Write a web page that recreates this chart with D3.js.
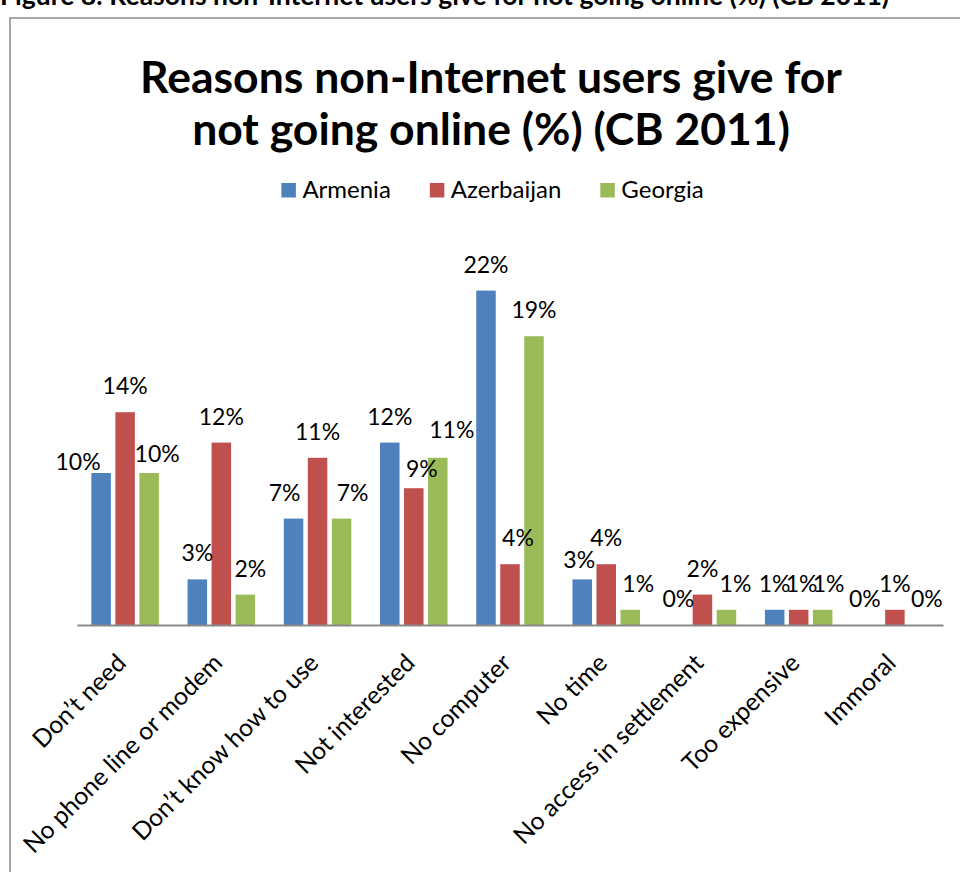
<!DOCTYPE html>
<html>
<head>
<meta charset="utf-8">
<script src="https://cdn.jsdelivr.net/npm/d3@7"></script>
<style>
  body { margin: 0; background: #fff; }
  text { font-family: Lato, "Open Sans", sans-serif; fill: #000; }
</style>
</head>
<body>
<svg id="chart" width="960" height="872"></svg>
<script>
// data
const categories = [
  "Don’t need",
  "No phone line or modem",
  "Don’t know how to use",
  "Not interested",
  "No computer",
  "No time",
  "No access in settlement",
  "Too expensive",
  "Immoral"
];
const seriesNames = ["Armenia", "Azerbaijan", "Georgia"];
const armenia = [10, 3, 7, 12, 22, 3, 0, 1, 0];
const azerbaijan = [14, 12, 11, 9, 4, 4, 2, 1, 1];
const georgia = [10, 2, 7, 11, 19, 1, 1, 1, 0];
const colors = ["#4F81BD", "#C0504D", "#9BBB59"];

// labels that were pushed aside to avoid overlaps (category-series: [dx, dy])
const labelNudge = {
  "0-0": [-23, 15], "0-2": [8, 7],
  "1-2": [5, 0],
  "2-0": [-9, 0], "2-2": [11, 0],
  "3-1": [8, 7], "3-2": [14, -2],
  "4-1": [8, 0],
  "5-0": [-3, 7], "5-2": [8, 0],
  "6-2": [9, 0],
  "7-1": [3, 0], "7-2": [6, 0],
  "8-0": [-6, 0], "8-2": [8, 0]
};

var svg = d3.select("#chart"),
  width = +svg.attr("width"),
  height = +svg.attr("height");

const values = [armenia, azerbaijan, georgia];
const rows = [];
categories.forEach((c, i) => {
  seriesNames.forEach((s, j) => {
    rows.push({ cat: c, ci: i, series: s, si: j, value: values[j][i] });
  });
});

// caption of the page, cut by the top edge
svg.append("text")
  .attr("x", 0)
  .attr("y", 5)
  .style("font-weight", "bold")
  .style("font-size", "26.5px")
  .text("Figure 8: Reasons non-Internet users give for not going online (%) (CB 2011)");

// outer frame (the chart box is cut by the page edge)
svg.append("path")
  .attr("d", `M10,${height + 2} V18 H${width + 2}`)
  .attr("fill", "none")
  .attr("stroke", "#8a8a8a")
  .attr("stroke-width", 1.5);

// scales
const x = d3.scaleBand().domain(categories).range([77, 943]);
const xs = d3.scaleBand().domain(seriesNames)
  .range([14.35, x.bandwidth() - 14.35])
  .paddingInner(0.1875);
const y = d3.scaleLinear().domain([0, 25]).range([625, 245]);

// title
const title = svg.append("text")
  .attr("x", 491)
  .attr("text-anchor", "middle")
  .style("font-weight", "bold")
  .style("font-size", "44.5px");
title.append("tspan").attr("x", 491).attr("y", 93).text("Reasons non-Internet users give for");
title.append("tspan").attr("x", 491).attr("y", 145).text("not going online (%) (CB 2011)");

// legend
const legend = svg.append("g").attr("class", "legend");
const items = legend.selectAll("g")
  .data(seriesNames)
  .enter()
  .append("g");
items.append("rect")
  .attr("width", 14.5)
  .attr("height", 14.5)
  .attr("y", 183)
  .attr("fill", (d, i) => colors[i]);
items.append("text")
  .attr("x", 21)
  .attr("y", 197.5)
  .style("font-size", "24px")
  .text((d) => d);
let lx = 0;
const pos = [];
const gap = 39;
items.each(function (d, i) {
  const w = d3.select(this).select("text").node().getComputedTextLength();
  pos.push(lx);
  lx += 21 + w + gap;
});
const total = lx - gap;
const start = 492.5 - total / 2;
items.attr("transform", (d, i) => `translate(${start + pos[i]},0)`);

// bars
svg.append("g")
  .attr("class", "bars")
  .selectAll("rect")
  .data(rows)
  .enter()
  .append("rect")
  .attr("x", (d) => x(d.cat) + xs(d.series))
  .attr("y", (d) => y(d.value))
  .attr("width", xs.bandwidth())
  .attr("height", (d) => y(0) - y(d.value))
  .attr("fill", (d) => colors[d.si]);

// axis line
const xAxis = svg.append("g")
  .attr("transform", `translate(0,${y(0)})`)
  .call(d3.axisBottom(x).tickSize(0).tickFormat(""));
xAxis.select(".domain").attr("stroke", "#898989").attr("stroke-width", 2);

// category labels
svg.append("g")
  .attr("class", "cat-labels")
  .selectAll("text")
  .data(categories)
  .enter()
  .append("text")
  .attr("text-anchor", "end")
  .style("font-size", "24.7px")
  .attr("transform", (d) => `translate(${x(d) + x.bandwidth() / 2 + 2.5},664.5) rotate(-45)`)
  .text((d) => d);

// value labels
svg.append("g")
  .attr("class", "value-labels")
  .selectAll("text")
  .data(rows)
  .enter()
  .append("text")
  .attr("text-anchor", "middle")
  .style("font-size", "23px")
  .attr("x", (d) => x(d.cat) + xs(d.series) + xs.bandwidth() / 2 + (labelNudge[d.ci + "-" + d.si] || [0, 0])[0])
  .attr("y", (d) => y(d.value) - 18 + (labelNudge[d.ci + "-" + d.si] || [0, 0])[1])
  .text((d) => d.value + "%");
</script>
</body>
</html>
